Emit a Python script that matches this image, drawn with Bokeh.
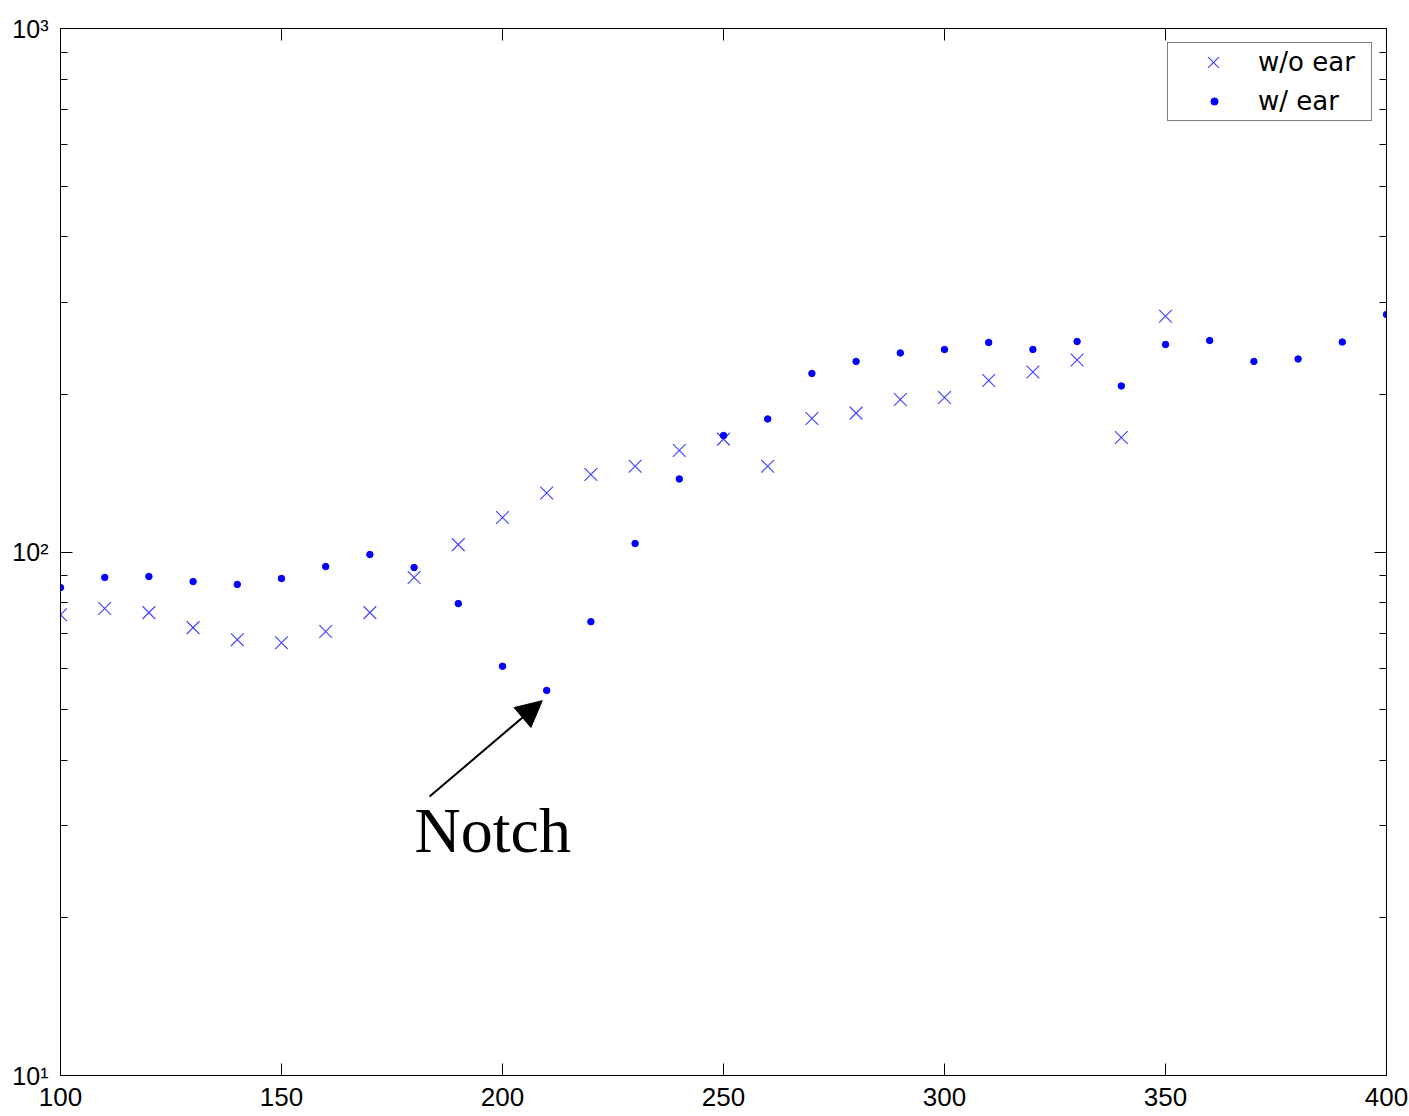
from bokeh.plotting import figure
from bokeh.models import (LinearAxis, LogAxis, FixedTicker, Label, Arrow, NormalHead,
                          CustomJSTickFormatter, Legend, LegendItem)
from bokeh.embed import file_html
from bokeh.resources import INLINE

# Frequencies (x) for both series
freq_wo = [100, 110, 120, 130, 140, 150, 160, 170, 180, 190, 200, 210, 220,
           230, 240, 250, 260, 270, 280, 290, 300, 310, 320, 330, 340, 350]
freq_w = [100, 110, 120, 130, 140, 150, 160, 170, 180, 190, 200, 210, 220,
          230, 240, 250, 260, 270, 280, 290, 300, 310, 320, 330, 340, 350,
          360, 370, 380, 390, 400]

# Response without the ear
wo_ear = [75.9, 78.0, 76.6, 71.7, 68.0, 67.1, 70.5, 76.6, 89.4, 103.3, 116.4,
          129.6, 140.6, 145.8, 156.3, 164.3, 145.8, 179.9, 184.2, 195.6, 197.3,
          212.6, 220.7, 232.7, 165.5, 282.0]
# Response with the ear
w_ear = [85.5, 89.4, 89.8, 87.8, 86.7, 89.0, 93.8, 98.9, 93.4, 79.7, 60.5,
         54.4, 73.6, 103.8, 137.9, 166.9, 179.5, 219.3, 231.2, 240.0, 243.7,
         251.3, 243.7, 252.4, 207.6, 249.1, 253.5, 231.2, 233.7, 251.8, 284.2]

series_labels = ["w/o ear", "w/ ear"]

x_ticks = [100, 150, 200, 250, 300, 350, 400]
y_ticks = [10, 100, 1000]
y_minor = [m * d for d in (10, 100) for m in range(2, 10)]
y_tick_labels = {10: "10\u00b9", 100: "10\u00b2", 1000: "10\u00b3"}

# Annotation for the notch
notch_text = "Notch"
notch_text_pos = (180.1, 29.4)
arrow_start = (183.5, 34.1)
arrow_end = (209.0, 52.0)

BLUE_X = "#4646ff"
BLUE_DOT = "#0000ff"

p = figure(width=1409, height=1116, y_axis_type="log",
           x_range=(100, 400), y_range=(10, 1000),
           output_backend="svg", toolbar_location=None,
           min_border_left=60, min_border_right=23,
           min_border_top=28, min_border_bottom=41)
p.grid.visible = False
p.outline_line_color = "black"
p.outline_line_width = 1
p.background_fill_color = "white"
p.border_fill_color = "white"

r_x = p.scatter(freq_wo, wo_ear, marker="x", size=18, line_color=BLUE_X,
                line_width=1.2)
r_dot = p.scatter(freq_w, w_ear, marker="circle", size=6.5,
                  fill_color=BLUE_DOT, line_color=BLUE_DOT)
# invisible stand-in so the boxed legend keeps two rows
r_blank = p.scatter(x=[], y=[], marker="circle", alpha=0)

def style_axis(ax, ticker, label_size, standoff):
    ax.ticker = ticker
    ax.axis_line_color = "black"
    ax.major_tick_line_color = "black"
    ax.minor_tick_line_color = "black"
    ax.major_tick_in = 12
    ax.major_tick_out = 0
    ax.minor_tick_in = 7
    ax.minor_tick_out = 0
    ax.major_label_standoff = standoff
    ax.major_label_text_font = "Liberation Sans"
    ax.major_label_text_font_size = label_size
    ax.major_label_text_color = "black"

xa = p.xaxis[0]
style_axis(xa, FixedTicker(ticks=x_ticks, minor_ticks=[]), "26px", 12)
ya = p.yaxis[0]
style_axis(ya, FixedTicker(ticks=y_ticks, minor_ticks=y_minor), "25px", 12)
ya.major_label_overrides = y_tick_labels

# Mirrored tick marks on the top and right edges (no labels)
blank = CustomJSTickFormatter(code="return ''")
top = LinearAxis(formatter=blank)
style_axis(top, FixedTicker(ticks=x_ticks, minor_ticks=[]), "1px", 0)
p.add_layout(top, "above")
right = LogAxis(formatter=blank)
style_axis(right, FixedTicker(ticks=y_ticks, minor_ticks=y_minor), "1px", 0)
p.add_layout(right, "right")

p.add_layout(Arrow(x_start=arrow_start[0], y_start=arrow_start[1],
                   x_end=arrow_end[0], y_end=arrow_end[1],
                   line_color="black", line_width=2,
                   end=NormalHead(size=26, fill_color="black",
                                  line_color="black")))
p.add_layout(Label(x=notch_text_pos[0], y=notch_text_pos[1], text=notch_text,
                   text_font="Liberation Serif", text_font_size="64px",
                   text_align="left", text_baseline="alphabetic",
                   text_color="black"))

# Boxed legend with both labels
legend = Legend(items=[LegendItem(label=series_labels[0], renderers=[r_x]),
                       LegendItem(label=series_labels[1], renderers=[r_blank])],
                location="top_right", margin=14, padding=0, spacing=1,
                glyph_width=90, glyph_height=38, label_height=38,
                label_width=113, label_standoff=0,
                label_text_font="DejaVu Sans", label_text_font_size="26px",
                label_text_color="black", border_line_color="black",
                border_line_width=1, background_fill_color="white",
                background_fill_alpha=1)
p.add_layout(legend, "center")

# Small-marker swatch for the dotted series, placed on the second legend row
dot_swatch = Legend(items=[LegendItem(label=" ", renderers=[r_dot])],
                    location=(1145, 965), margin=0, padding=0, spacing=0,
                    glyph_width=18, glyph_height=18, label_height=18,
                    label_width=0, label_standoff=0,
                    label_text_font_size="1px", border_line_alpha=0,
                    background_fill_alpha=0)
p.add_layout(dot_swatch, "center")

open("out.html", "w").write(file_html(p, INLINE))
